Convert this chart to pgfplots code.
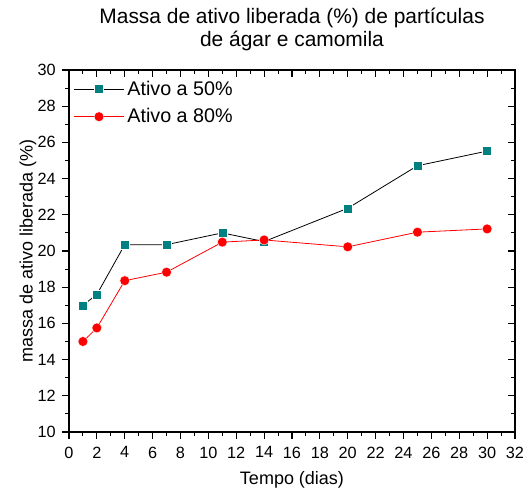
\documentclass[border=0pt]{standalone}
\usepackage{pgfplots}
\pgfplotsset{compat=1.18}
\usepackage{fontspec}
\setmainfont{Liberation Sans}
\definecolor{tealsq}{RGB}{0,128,128}

\begin{document}
\begin{tikzpicture}
\pgfplotsset{
  base/.style={
    scale only axis,
    width=334.5pt, height=271.5pt,
    xmin=0, xmax=32, ymin=10, ymax=30,
    xtick={0,2,...,32}, ytick={10,12,...,30},
    minor x tick num=1, minor y tick num=1,
    axis line style={line width=0.9pt},
    major tick length=5pt, minor tick length=2.8pt,
    tick style={line width=0.8pt, black},
    /pgf/number format/assume math mode=true,
    ticklabel style={font=\fontsize{12.2}{14}\selectfont},
  }
}
\begin{axis}[base,
    xtick pos=bottom, ytick pos=left, tick align=outside,
    xticklabel style={yshift=-2.5pt},
    yticklabel style={xshift=-1.5pt},
    title={Massa de ativo liberada (\%) de partículas\\de ágar e camomila},
    title style={font=\fontsize{15.7}{17.3}\selectfont, align=center,
      at={(axis description cs:0.5,1)}, anchor=south, inner sep=0pt, yshift=8pt},
    xlabel={Tempo (dias)}, ylabel={massa de ativo liberada (\%)},
    label style={font=\fontsize{13.5}{15}\selectfont},
    xlabel style={at={(axis description cs:0.5,-0.1326)}, anchor=center},
    ylabel style={at={(axis description cs:-0.0919,0.5)}, anchor=center},
    legend style={draw=none, fill=none, at={(0.0,1.0)}, anchor=north west,
      font=\fontsize{14.8}{17}\selectfont, row sep=4.5pt,
      inner xsep=3pt, inner ysep=6pt},
    legend cell align=left,
    legend image code/.code={\draw[#1, mark repeat=2, mark phase=2]
      plot coordinates {(0pt,0pt) (19pt,0pt) (38pt,0pt)};},
  ]
\addplot[black, line width=0.6pt, mark=square*, mark size=3.4pt,
  mark options={fill=tealsq, draw=white, line width=0.3pt}]
  coordinates {(1,17.0) (2,17.6) (4,20.35) (7,20.35) (11,21.0) (14,20.52) (20,22.36) (25,24.71) (30,25.52)};
\addlegendentry{Ativo a 50\%}
\addplot[red, line width=0.6pt, mark=*, mark size=3.7pt,
  mark options={fill=red, draw=white, line width=0.3pt}]
  coordinates {(1,15.0) (2,15.75) (4,18.36) (7,18.83) (11,20.49) (14,20.61) (20,20.23) (25,21.04) (30,21.22)};
\addlegendentry{Ativo a 80\%}
\coordinate (sw) at (rel axis cs:0,0);
\coordinate (ne) at (rel axis cs:1,1);
\end{axis}
\begin{axis}[base,
    xtick pos=top, ytick pos=right, tick align=inside,
    xticklabels={}, yticklabels={},
  ]
\end{axis}
\pgfresetboundingbox
\path ([shift={(-51.75pt,-42.75pt)}]sw) rectangle ([shift={(7.5pt,52.5pt)}]ne);
\end{tikzpicture}
\end{document}
